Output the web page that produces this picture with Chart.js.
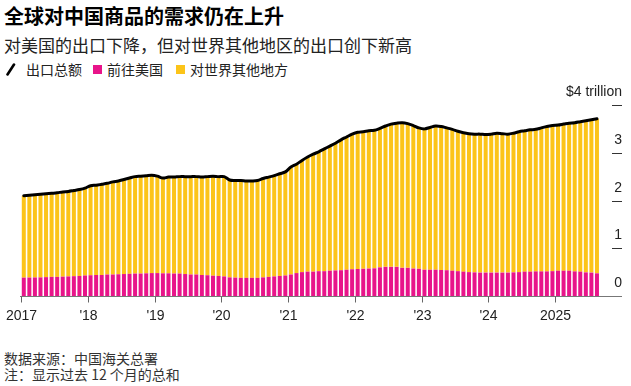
<!DOCTYPE html>
<html><head><meta charset="utf-8">
<script src="https://cdn.jsdelivr.net/npm/chart.js@4/dist/chart.umd.min.js"></script>
<style>
html,body{margin:0;padding:0;background:#fff;}
body{width:631px;height:386px;overflow:hidden;position:relative;font-family:"Noto Sans CJK SC","Noto Sans",sans-serif;}
.t{position:absolute;white-space:nowrap;}
#title{left:4px;top:5px;font-size:20px;line-height:22px;font-weight:700;color:#000;}
#sub{left:4px;top:35px;font-size:17px;line-height:19px;color:#222;}
.lg{top:61px;font-size:14px;line-height:16px;color:#222;}
.sw{position:absolute;top:65px;width:9px;height:9px;}
.ft{left:4px;font-size:14px;line-height:16px;color:#333;}
#c{position:absolute;left:0;top:0;}
</style></head>
<body>
<div class="t" id="title">全球对中国商品的需求仍在上升</div>
<div class="t" id="sub">对美国的出口下降，但对世界其他地区的出口创下新高</div>
<svg style="position:absolute;left:6px;top:63px" width="10" height="13"><line x1="1.5" y1="11.5" x2="8" y2="1.5" stroke="#000" stroke-width="2.6" stroke-linecap="round"/></svg>
<div class="t lg" style="left:26px">出口总额</div>
<div class="sw" style="left:93px;background:#e8148a"></div>
<div class="t lg" style="left:107px">前往美国</div>
<div class="sw" style="left:176px;background:#fcc419"></div>
<div class="t lg" style="left:190px">对世界其他地方</div>
<div class="t ft" style="top:350px">数据来源：中国海关总署</div>
<div class="t ft" style="top:366px">注：显示过去 12 个月的总和</div>
<canvas id="c" width="631" height="386"></canvas>
<script>
// Trailing 12-month totals, trillion USD, monthly Jan 2017 – Aug 2025
const years = [2017, 2018, 2019, 2020, 2021, 2022, 2023, 2024, 2025];
const totalExports = [
  2.10, 2.11, 2.12, 2.13, 2.14, 2.15, 2.16, 2.18, 2.19, 2.21, 2.23, 2.26,
  2.31, 2.32, 2.34, 2.36, 2.39, 2.41, 2.44, 2.47, 2.50, 2.51, 2.52, 2.53,
  2.51, 2.47, 2.49, 2.49, 2.50, 2.50, 2.50, 2.50, 2.49, 2.50, 2.51, 2.50,
  2.50, 2.43, 2.42, 2.42, 2.41, 2.41, 2.42, 2.46, 2.49, 2.52, 2.56, 2.60,
  2.70, 2.76, 2.84, 2.91, 2.97, 3.02, 3.08, 3.14, 3.20, 3.27, 3.33, 3.39,
  3.43, 3.44, 3.46, 3.47, 3.51, 3.56, 3.60, 3.62, 3.63, 3.61, 3.57, 3.52,
  3.50, 3.53, 3.56, 3.55, 3.52, 3.49, 3.45, 3.42, 3.40, 3.39, 3.39, 3.38,
  3.39, 3.41, 3.40, 3.39, 3.41, 3.44, 3.46, 3.48, 3.49, 3.52, 3.55, 3.57,
  3.58, 3.60, 3.62, 3.63, 3.65, 3.67, 3.69, 3.71
];
const usExports = [
  0.385, 0.386, 0.388, 0.390, 0.395, 0.400, 0.400, 0.405, 0.410, 0.415, 0.420, 0.430,
  0.435, 0.440, 0.440, 0.450, 0.450, 0.455, 0.460, 0.465, 0.470, 0.470, 0.475, 0.480,
  0.480, 0.475, 0.475, 0.470, 0.470, 0.460, 0.450, 0.450, 0.440, 0.435, 0.425, 0.420,
  0.410, 0.390, 0.385, 0.380, 0.380, 0.380, 0.380, 0.390, 0.400, 0.410, 0.420, 0.430,
  0.450, 0.480, 0.500, 0.510, 0.510, 0.520, 0.520, 0.530, 0.535, 0.540, 0.550, 0.560,
  0.565, 0.570, 0.575, 0.580, 0.600, 0.610, 0.610, 0.610, 0.590, 0.590, 0.575, 0.570,
  0.550, 0.550, 0.550, 0.545, 0.540, 0.530, 0.520, 0.510, 0.500, 0.495, 0.490, 0.490,
  0.490, 0.490, 0.490, 0.490, 0.495, 0.500, 0.510, 0.510, 0.515, 0.515, 0.515, 0.520,
  0.530, 0.530, 0.530, 0.515, 0.510, 0.495, 0.490, 0.475
];
const xTickLabels = ['2017', "'18", "'19", "'20", "'21", "'22", "'23", "'24", '2025'];
const yTickValues = [0, 1, 2, 3, 4];
const yTickLabels = ['0', '1', '2', '3', '$4 trillion'];

const categories = [];
years.forEach(y => { for (let m = 1; m <= 12; m++) categories.push(y + '-' + String(m).padStart(2, '0')); });
categories.length = totalExports.length;

const restOfWorld = totalExports.map((t, i) => +(t - usExports[i]).toFixed(3));
const pos = categories.map((c, i) => i + 0.5);
const pts = arr => arr.map((v, i) => ({ x: pos[i], y: v }));

const axisPlugin = {
  id: 'axisPlugin',
  afterDatasetsDraw(chart) {
    const { ctx, chartArea: a, scales: { x, y } } = chart;
    ctx.save();
    const y0 = Math.round(y.getPixelForValue(0)) + 0.5;
    ctx.strokeStyle = '#777';
    ctx.lineWidth = 1;
    ctx.beginPath(); ctx.moveTo(x.getPixelForValue(0) - 1, y0); ctx.lineTo(a.right, y0); ctx.stroke();
    ctx.font = '14px "Liberation Sans", Arial, sans-serif';
    ctx.fillStyle = '#222';
    ctx.textAlign = 'center'; ctx.textBaseline = 'middle';
    xTickLabels.forEach((lab, k) => {
      const px = Math.round(x.getPixelForValue(k * 12)) + 0.5;
      ctx.strokeStyle = '#666';
      ctx.beginPath(); ctx.moveTo(px, y0); ctx.lineTo(px, y0 + 6); ctx.stroke();
      ctx.fillText(lab, px, y0 + 20);
    });
    ctx.textAlign = 'right';
    yTickValues.forEach((v, k) => {
      const py = Math.round(y.getPixelForValue(v)) + 0.5;
      if (v !== 0) {
        ctx.strokeStyle = '#333';
        ctx.beginPath(); ctx.moveTo(a.right - 10, py); ctx.lineTo(a.right, py); ctx.stroke();
      }
      ctx.fillText(yTickLabels[k], a.right, py - 13);
    });
    ctx.restore();
  }
};

new Chart(document.getElementById('c'), {
  data: {
    datasets: [
      { type: 'line', label: '出口总额', data: pts(totalExports), borderColor: '#000', borderWidth: 3,
        pointRadius: 0, tension: 0.35, stack: 'total', order: 0, borderCapStyle: 'round', borderJoinStyle: 'round' },
      { type: 'bar', label: '前往美国', data: pts(usExports), backgroundColor: '#e8148a', stack: 'b', order: 1,
        categoryPercentage: 1, barPercentage: 0.72 },
      { type: 'bar', label: '对世界其他地方', data: pts(restOfWorld), backgroundColor: '#fcc419', stack: 'b', order: 2,
        categoryPercentage: 1, barPercentage: 0.72 }
    ]
  },
  options: {
    responsive: false,
    animation: false,
    devicePixelRatio: 1,
    layout: { padding: { left: 21, right: 9, top: 105, bottom: 90 } },
    plugins: { legend: { display: false }, tooltip: { enabled: false } },
    scales: {
      x: { type: 'linear', display: false, offset: false, bounds: 'data', min: 0, max: 108, stacked: true,
           grid: { offset: false } },
      y: { type: 'linear', display: false, min: 0, max: 4, stacked: true }
    }
  },
  plugins: [axisPlugin]
});
</script>
</body></html>
